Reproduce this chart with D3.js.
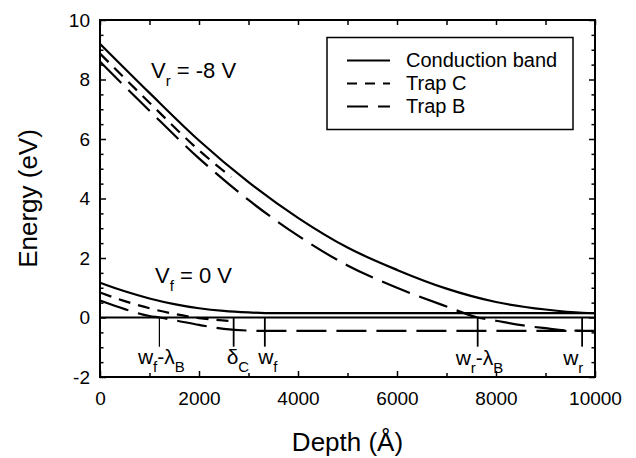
<!DOCTYPE html>
<html>
<head>
<meta charset="utf-8">
<script src="https://cdn.jsdelivr.net/npm/d3@7"></script>
<style>
    body { margin: 0; background: #fff; }
    svg { display: block; font-family: "Liberation Sans", Arial, Helvetica, sans-serif; }
    .axis .domain { display: none; }
    .axis line { stroke: #000; stroke-width: 1.5; }
    .axis text { font-size: 19px; fill: #000; }
</style>
</head>
<body>
<svg id="chart" width="636" height="458"></svg>
<script>
// Energy band diagram: conduction band + trap levels vs depth

// ---- data (depth in Å, energy in eV) ----
const cbReverse = [[0, 9.2], [1000, 7.55], [2000, 5.95], [3000, 4.55], [4000, 3.35], [5000, 2.35],
    [6000, 1.6], [7000, 0.97], [8000, 0.52], [9000, 0.27], [9750, 0.16], [10000, 0.15]];
const trapCReverse = [[0, 8.87], [1000, 7.22], [2000, 5.62], [2650, 4.72]];
const trapBReverse = [[0, 8.6], [1000, 6.95], [2000, 5.35], [3000, 3.95], [4000, 2.75], [5000, 1.75],
    [6000, 1.0], [7000, 0.37], [7630, 0.0], [8000, -0.11], [8600, -0.28], [9000, -0.36],
    [9400, -0.43], [9750, -0.45]];

const cbForward = [[0, 1.17], [500, 0.88], [1000, 0.64], [1500, 0.45], [2000, 0.31], [2500, 0.22],
    [3000, 0.17], [3330, 0.15], [10000, 0.15]];
const trapCForward = [[0, 0.84], [500, 0.55], [1000, 0.31], [1500, 0.12], [2000, -0.02], [2650, -0.12]];
const trapBForward = [[0, 0.57], [500, 0.28], [1000, 0.05], [1200, 0.0], [1500, -0.09], [2000, -0.25],
    [2500, -0.38], [3000, -0.44], [3330, -0.45], [10000, -0.45]];

const fermiLevel = [[0, 0], [10000, 0]];

const xTicks = [0, 2000, 4000, 6000, 8000, 10000];
const xMinorTicks = [1000, 3000, 5000, 7000, 9000];
const yTicks = [-2, 0, 2, 4, 6, 8, 10];
const yMinorTicks = [-1.5, -1, -0.5, 0.5, 1, 1.5, 2.5, 3, 3.5, 4.5, 5, 5.5, 6.5, 7, 7.5, 8.5, 9, 9.5];

const markerDepths = [1200, 2700, 3330, 7630, 9740];
const markerLabels = [
    [["w", 0], ["f", 1], ["-λ", 0], ["B", 1]],
    [["δ", 0], ["C", 1]],
    [["w", 0], ["f", 1]],
    [["w", 0], ["r", 1], ["-λ", 0], ["B", 1]],
    [["w", 0], ["r", 1]],
];
const legendNames = ["Conduction band", "Trap C", "Trap B"];

// ---- layout ----
const margin = { left: 100, right: 41, top: 20, bottom: 81 };
const W = 636, H = 458;
const svg = d3.select("#chart");

const x = d3.scaleLinear().domain([0, 10000]).range([margin.left, W - margin.right]);
const y = d3.scaleLinear().domain([-2, 10]).range([H - margin.bottom, margin.top]);

const solid = null, shortDash = "12,8", longDash = "30,10";

// ---- axes ----
const bottom = H - margin.bottom, right = W - margin.right;
const fmt = d => String(d).replace("−", "-");

svg.append("g").attr("class", "axis").attr("transform", `translate(0,${bottom})`)
    .call(d3.axisBottom(x).tickValues(xTicks).tickSize(-6).tickSizeOuter(0).tickPadding(14.5).tickFormat(fmt));
svg.append("g").attr("class", "axis").attr("transform", `translate(0,${bottom})`)
    .call(d3.axisBottom(x).tickValues(xMinorTicks).tickSize(-4).tickSizeOuter(0).tickFormat(""));
svg.append("g").attr("class", "axis").attr("transform", `translate(0,${margin.top})`)
    .call(d3.axisTop(x).tickValues(xTicks.concat(xMinorTicks)).tickSize(-5).tickSizeOuter(0).tickFormat(""));

svg.append("g").attr("class", "axis").attr("transform", `translate(${margin.left},0)`)
    .call(d3.axisLeft(y).tickValues(yTicks).tickSize(-6).tickSizeOuter(0).tickPadding(10).tickFormat(fmt));
svg.append("g").attr("class", "axis").attr("transform", `translate(${margin.left},0)`)
    .call(d3.axisLeft(y).tickValues(yMinorTicks).tickSize(-3.5).tickSizeOuter(0).tickFormat(""));
svg.append("g").attr("class", "axis").attr("transform", `translate(${right},0)`)
    .call(d3.axisRight(y).tickValues(yTicks).tickSize(-6).tickSizeOuter(0).tickFormat(""));
svg.append("g").attr("class", "axis").attr("transform", `translate(${right},0)`)
    .call(d3.axisRight(y).tickValues(yMinorTicks).tickSize(-3.5).tickSizeOuter(0).tickFormat(""));

svg.append("rect")
    .attr("x", margin.left).attr("y", margin.top)
    .attr("width", right - margin.left).attr("height", bottom - margin.top)
    .attr("fill", "none").attr("stroke", "#000").attr("stroke-width", 2);

// axis titles
svg.append("text")
    .attr("x", (margin.left + right) / 2).attr("y", 451)
    .attr("text-anchor", "middle").attr("font-size", 26)
    .text("Depth (Å)");
svg.append("text")
    .attr("transform", `translate(37,${(margin.top + bottom) / 2}) rotate(-90)`)
    .attr("text-anchor", "middle").attr("font-size", 26)
    .text("Energy (eV)");

// ---- curves ----
const line = d3.line().x(d => x(d[0])).y(d => y(d[1])).curve(d3.curveMonotoneX);
const plot = svg.append("g").attr("fill", "none").attr("stroke", "#000");

function drawLine(data, dash, width) {
    plot.append("path")
        .attr("d", line(data))
        .attr("stroke-width", width || 2.2)
        .attr("stroke-dasharray", dash);
}

drawLine(fermiLevel, solid, 2);
drawLine(cbReverse, solid);
drawLine(trapCReverse, shortDash);
drawLine(trapBReverse, longDash);
drawLine(cbForward, solid);
drawLine(trapCForward, shortDash);
drawLine(trapBForward, longDash);

// ---- markers ----
const labelDx = [-21.5, -7, -6.7, -22, -19];
const labelY = [364, 364, 364, 365, 365];

function subText(g, parts, size, subSize) {
    const t = g.append("text").attr("font-size", size);
    parts.forEach((p, i) => {
        const prevSub = i > 0 && parts[i - 1][1];
        const ts = t.append("tspan").text(p[0]);
        if (p[1]) ts.attr("font-size", subSize).attr("dy", prevSub ? 0 : 8);
        else if (prevSub) ts.attr("dy", -8);
    });
    return t;
}

markerDepths.forEach((d, i) => {
    plot.append("line")
        .attr("x1", x(d)).attr("x2", x(d))
        .attr("y1", y(0)).attr("y2", y(-0.98))
        .attr("stroke-width", i === 0 ? 1.2 : 1.8);
    subText(svg, markerLabels[i], 21, 15)
        .attr("x", x(d) + labelDx[i]).attr("y", labelY[i]);
});

// bias labels
subText(svg, [["V", 0], ["r", 1], [" = -8 V", 0]], 22, 15).attr("x", 151).attr("y", 78);
subText(svg, [["V", 0], ["f", 1], [" = 0 V", 0]], 22, 15).attr("x", 155).attr("y", 283);

// ---- legend ----
const legendDash = [solid, "10,8", "21,10"];
const legend = svg.append("g");
legend.append("rect")
    .attr("x", 327).attr("y", 37.5).attr("width", 246).attr("height", 92)
    .attr("fill", "#fff").attr("stroke", "#000").attr("stroke-width", 1.5);
legendNames.forEach((name, i) => {
    const ly = 60.5 + i * 23;
    legend.append("line")
        .attr("x1", 347).attr("x2", 390).attr("y1", ly).attr("y2", ly)
        .attr("stroke", "#000").attr("stroke-width", 2.2)
        .attr("stroke-dasharray", legendDash[i]);
    legend.append("text")
        .attr("x", 406).attr("y", ly + 6.5)
        .attr("font-size", 20)
        .text(name);
});
</script>
</body>
</html>
